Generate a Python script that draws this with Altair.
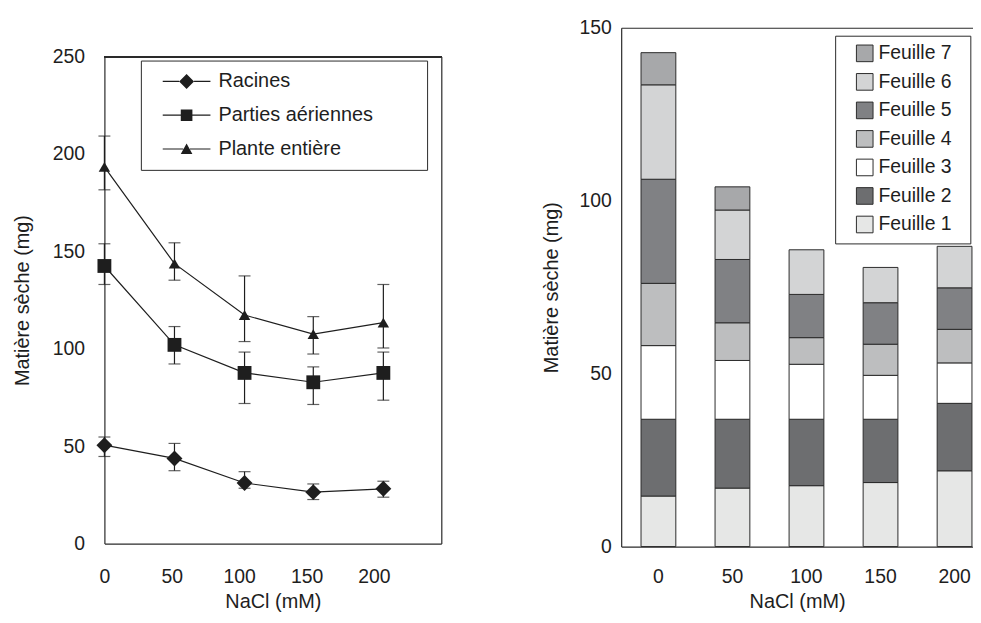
import altair as alt
import pandas as pd

# ---------------- data ----------------
nacl_ticks = [0, 50, 100, 150, 200]
nacl_pos = [0, 52, 104, 155, 207]          # positions at which the points are plotted
series = ["Racines", "Parties aériennes", "Plante entière"]

racines = [50.5, 43.7, 31.1, 26.4, 28.1]
racines_lo = [44.7, 37.4, 28.4, 22.6, 23.8]
racines_hi = [54.7, 51.4, 36.9, 30.6, 32.0]

parties = [142.5, 102.0, 87.6, 82.8, 87.6]
parties_lo = [133.0, 92.2, 71.9, 71.4, 73.6]
parties_hi = [153.9, 111.4, 98.3, 90.7, 98.3]

plante = [193.4, 143.7, 117.3, 107.5, 113.4]
plante_lo = [181.6, 135.2, 103.7, 97.3, 100.4]
plante_hi = [209.2, 154.4, 137.4, 116.5, 133.0]

nacl_labels = ["0", "50", "100", "150", "200"]
leaves = ["Feuille 1", "Feuille 2", "Feuille 3", "Feuille 4",
          "Feuille 5", "Feuille 6", "Feuille 7"]
f1 = [14.6, 16.9, 17.6, 18.5, 21.9]
f2 = [22.2, 19.9, 19.2, 18.3, 19.5]
f3 = [21.3, 17.0, 15.9, 12.7, 11.7]
f4 = [18.0, 10.9, 7.7, 9.0, 9.7]
f5 = [30.1, 18.3, 12.5, 12.0, 12.0]
f6 = [27.3, 14.3, 12.9, 10.2, 12.0]
f7 = [9.3, 6.7, 0.0, 0.0, 0.0]
leaf_colors = ["#e6e7e6", "#6d6e70", "#ffffff", "#bdbebf",
               "#808184", "#d3d4d5", "#a7a8aa"]

# ---------------- style ----------------
FONT = "Liberation Sans"
INK = "#1e1e1e"
AX = "#2a2a2a"

# ---------------- left chart ----------------
rows = []
for s, m, lo, hi in [(series[0], racines, racines_lo, racines_hi),
                     (series[1], parties, parties_lo, parties_hi),
                     (series[2], plante, plante_lo, plante_hi)]:
    for i in range(5):
        rows.append({"series": s, "pos": nacl_pos[i], "val": m[i],
                     "lo": lo[i], "hi": hi[i]})
df_l = pd.DataFrame(rows)

LH = 519   # view height; the data range starts 29 px below its top
xs = alt.Scale(domain=[0, 250], nice=False, zero=False)
ys = alt.Scale(domain=[0, 250], nice=False, range=[LH, 29])
x_ax = alt.Axis(values=nacl_ticks, title="NaCl (mM)", labelPadding=24,
                titlePadding=6, labelFlush=False, ticks=False)
y_ax = alt.Axis(values=[0, 50, 100, 150, 200, 250], title="Matière sèche (mg)",
                labelPadding=20, titlePadding=20, ticks=False)


def LX():
    return alt.X("pos:Q", scale=xs, axis=x_ax)


def LY(f):
    return alt.Y(f + ":Q", scale=ys, axis=y_ax)


base = alt.Chart(df_l)
lines = base.mark_line(color=INK, strokeWidth=1.2).encode(
    x=LX(), y=LY("val"), detail="series:N")
bars_err = base.mark_rule(color=INK, strokeWidth=1.2).encode(
    x=LX(), y=LY("lo"), y2="hi:Q")
cap_lo = base.mark_tick(orient="horizontal", size=12, thickness=1.2, color=INK).encode(
    x=LX(), y=LY("lo"))
cap_hi = base.mark_tick(orient="horizontal", size=12, thickness=1.2, color=INK).encode(
    x=LX(), y=LY("hi"))
points = base.mark_point(filled=True, opacity=1, color=INK, strokeWidth=0).encode(
    x=LX(), y=LY("val"),
    shape=alt.Shape("series:N", scale=alt.Scale(domain=series,
                    range=["diamond", "square", "triangle-up"]), legend=None),
    size=alt.Size("series:O", scale=alt.Scale(domain=series, range=[256, 132, 150]),
                  legend=None),
)
top_frame = alt.Chart(df_l).mark_rule(color=AX, strokeWidth=1.2).encode(
    y=alt.datum(250, scale=ys))

leg_paths = [
    "M-3.2,-0.08H-1V0.08H-3.2ZM-1,0L0,-1L1,0L0,1ZM1,-0.08H3.2V0.08H1Z",
    "M-3.2,-0.08H-0.78V0.08H-3.2ZM-0.78,-0.78H0.78V0.78H-0.78ZM0.78,-0.08H3.2V0.08H0.78Z",
    "M-3.2,-0.08H-0.45V0.08H-3.2ZM0,-0.75L0.78,0.68L-0.78,0.68ZM0.45,-0.08H3.2V0.08H0.45Z",
]
legend_layer = base.transform_filter("false").mark_point(
    filled=True, color=INK, opacity=1).encode(
    x=LX(), y=LY("val"),
    shape=alt.Shape("series:N", scale=alt.Scale(domain=series, range=leg_paths),
                    legend=alt.Legend(
                        title="·", titleOrient="right", titleFontSize=2,
                        titleOpacity=0, titlePadding=42,
                        orient="none", legendX=36.7, legendY=33,
                        padding=11, strokeColor=AX, fillColor="white",
                        labelFont=FONT, labelFontSize=20, labelColor=INK,
                        labelLimit=400, symbolSize=225, symbolOffset=25,
                        labelOffset=22, rowPadding=14,
                        symbolFillColor=INK, symbolStrokeColor=INK,
                        symbolStrokeWidth=0.5, symbolOpacity=1)),
)

inner_left = alt.layer(top_frame, lines, bars_err, cap_lo, cap_hi, points,
                       legend_layer).resolve_scale(shape="independent", size="independent")

frame_left = base.transform_filter("false").mark_point(opacity=0).encode(
    y=alt.Y("val:Q", scale=ys, axis=alt.Axis(orient="right", labels=False, ticks=False,
                                              title=None, domain=True)),
)

left = alt.layer(inner_left, frame_left).resolve_axis(y="independent").properties(
    width=339, height=LH)

# ---------------- right chart ----------------
rrows = []
for j, vals in enumerate([f1, f2, f3, f4, f5, f6, f7]):
    for i in range(5):
        if vals[i] > 0:
            rrows.append({"nacl": nacl_labels[i], "leaf": leaves[j],
                          "idx": j + 1, "value": vals[i]})
df_r = pd.DataFrame(rrows)

xb = alt.Scale(paddingInner=0.53, paddingOuter=0.141, align=0.95)
bars = alt.Chart(df_r).mark_bar(stroke="#2b2b2b", strokeWidth=1).encode(
    x=alt.X("nacl:N", sort=nacl_labels, scale=xb,
            axis=alt.Axis(title="NaCl (mM)", labelAngle=0, labelPadding=21,
                          titlePadding=6, ticks=False)),
    y=alt.Y("value:Q", stack="zero", scale=alt.Scale(domain=[0, 150], nice=False),
            axis=alt.Axis(values=[0, 50, 100, 150], title="Matière sèche (mg)",
                          labelPadding=10, titlePadding=17.5, ticks=False)),
    color=alt.Color("leaf:N", scale=alt.Scale(domain=leaves[::-1], range=leaf_colors[::-1]),
                    legend=alt.Legend(
                        title="·", titleOrient="right", titleFontSize=2,
                        titleOpacity=0, titlePadding=10,
                        orient="none", legendX=215.3, legendY=8,
                        padding=8, strokeColor=AX, fillColor="white",
                        labelFont=FONT, labelFontSize=19.5, labelColor=INK,
                        symbolType="square", symbolSize=280, symbolOffset=12,
                        symbolStrokeColor="#2b2b2b", symbolStrokeWidth=1,
                        labelOffset=4, rowPadding=6.7, labelLimit=300)),
    order=alt.Order("idx:Q", sort="ascending"),
)
frame_right = alt.Chart(df_r).transform_filter("false").mark_bar(opacity=0).encode(
    x=alt.X("nacl:N", sort=nacl_labels, scale=xb,
            axis=alt.Axis(orient="top", labels=False, ticks=False, title=None, domain=True)),
)
right = alt.layer(bars, frame_right).resolve_axis(x="independent").properties(
    width=354, height=522)

chart = alt.hconcat(left, right, spacing=99).resolve_legend(
    shape="independent", color="independent").properties(
    padding={"left": 4, "top": 8, "right": 0, "bottom": 0},
    background="white",
).configure_axis(
    labelFont=FONT, labelFontSize=19.5, labelColor=INK,
    titleFont=FONT, titleFontSize=20, titleFontWeight="normal", titleColor=INK,
    domainColor=AX, domainWidth=1.2, grid=False,
).configure_view(strokeWidth=0)

chart.save("out.html", embed_options={"renderer": "svg", "actions": False})
